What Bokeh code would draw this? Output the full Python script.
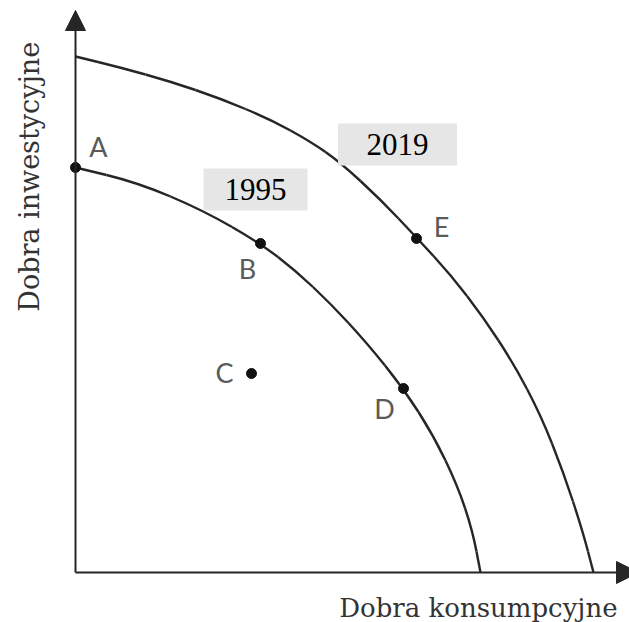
from bokeh.plotting import figure
from bokeh.models import Range1d, Arrow, NormalHead, Label, ColumnDataSource
from bokeh.core.properties import value
from bokeh.embed import file_html
from bokeh.resources import INLINE
import math

# ---- data (units: offsets from the origin) ----
ppf_2019_x = [0, 45, 95, 145, 195, 235, 265, 305, 341, 375, 408, 438, 465, 488, 507, 518]
ppf_2019_y = [516, 505, 491, 474, 453, 431, 410, 373, 335, 298, 255, 209, 158, 100, 42, 0]
ppf_1995_x = [0, 62, 128, 185, 220, 255, 291, 328, 358, 382, 397, 405]
ppf_1995_y = [405, 390, 362, 329, 302, 269, 230, 184, 137, 87, 42, 0]

point_names = ["A", "B", "C", "D", "E"]
point_x = [0, 185, 176, 328, 341]
point_y = [405, 329, 199, 184, 334]

years = ["1995", "2019"]
x_title = "Dobra  konsumpcyjne"
y_title = "Dobra  inwestycyjne"

# ---- layout / style ----
label_dx = [23, -13, -27, -19, 25]
label_dy = [21, -25, 1, -20, 12]
year_pos_x = [180, 322]
year_pos_y = [383, 428]
axis_end = 563

p = figure(width=629, height=622, x_range=Range1d(-75, 554), y_range=Range1d(-50, 572),
           output_backend="svg", toolbar_location=None, min_border=0,
           x_axis_location=None, y_axis_location=None)
p.grid.visible = False
p.outline_line_color = None
p.background_fill_color = "white"

ink = "#262626"
p.add_layout(Arrow(end=NormalHead(size=20, fill_color=ink, line_color=ink, line_width=1),
                   x_start=0, y_start=0, x_end=0, y_end=axis_end - 1,
                   line_color=ink, line_width=2))
p.add_layout(Arrow(end=NormalHead(size=22, fill_color=ink, line_color=ink, line_width=1),
                   x_start=0, y_start=0, x_end=axis_end, y_end=0,
                   line_color=ink, line_width=2))


def smooth_curve(xs, ys, **kw):
    """Draw the read points as a smooth quadratic B-spline (through segment midpoints)."""
    n = len(xs)
    mx = [(xs[i] + xs[i + 1]) / 2 for i in range(n - 1)]
    my = [(ys[i] + ys[i + 1]) / 2 for i in range(n - 1)]
    p.line([xs[0], mx[0]], [ys[0], my[0]], **kw)
    p.line([mx[-1], xs[-1]], [my[-1], ys[-1]], **kw)
    p.quadratic(x0=mx[:-1], y0=my[:-1], x1=mx[1:], y1=my[1:],
                cx=xs[1:-1], cy=ys[1:-1], **kw)


smooth_curve(ppf_2019_x, ppf_2019_y, line_color=ink, line_width=2.4)
smooth_curve(ppf_1995_x, ppf_1995_y, line_color=ink, line_width=2.4)

p.scatter(point_x, point_y, size=10, fill_color="#111111", line_color="#111111")

lab_src = ColumnDataSource(dict(
    x=[a + b for a, b in zip(point_x, label_dx)],
    y=[a + b for a, b in zip(point_y, label_dy)],
    t=point_names))
p.text("x", "y", text="t", source=lab_src, text_font=value("Lato"),
       text_font_size="27px", text_color="#5a5a5a", text_align="center",
       text_baseline="middle")

p.rect(year_pos_x, year_pos_y, width=[104, 119], height=[42, 42],
       width_units="screen", height_units="screen",
       fill_color="#e6e6e6", line_color=None)
p.text(year_pos_x, year_pos_y, text=years, text_font=value("Liberation Serif"),
       text_font_size="31px", text_color="black", text_align="center",
       text_baseline="middle")

p.add_layout(Label(x=407, y=-35, text=x_title, text_font="DejaVu Serif",
                   text_font_size="26px", text_color="#333333",
                   text_align="center", text_baseline="alphabetic"))
p.add_layout(Label(x=-46, y=400, text=y_title, text_font="DejaVu Serif",
                   text_font_size="27px", text_color="#333333", angle=math.pi / 2,
                   text_align="center", text_baseline="alphabetic"))

open("out.html", "w").write(file_html(p, INLINE))
